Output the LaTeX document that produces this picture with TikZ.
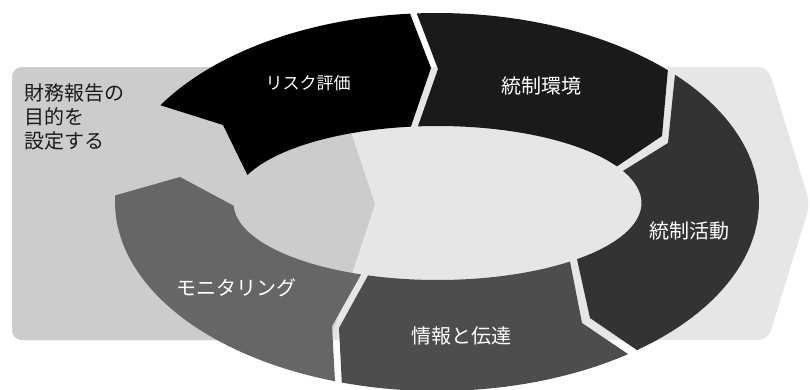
\documentclass[tikz,border=0pt]{standalone}
\usepackage{fontspec}
\setmainfont{Noto Sans CJK JP}
\definecolor{bgA}{HTML}{CCCCCC}
\definecolor{bgB}{HTML}{E6E6E6}
\definecolor{segA}{HTML}{000000}
\definecolor{segB}{HTML}{1A1A1A}
\definecolor{segC}{HTML}{333333}
\definecolor{segD}{HTML}{4D4D4D}
\definecolor{segE}{HTML}{666666}
\definecolor{goaltext}{HTML}{1A1A1A}
\tikzset{
  lbl/.style={text=white, inner sep=0pt, font=\fontsize{20}{24}\selectfont},
  smalllbl/.style={lbl, font=\fontsize{17}{20}\selectfont},
  goalbox/.style={text=goaltext, inner sep=0pt, align=left, font=\fontsize{20}{24}\selectfont},
  arcplot/.style={samples=48, variable=\t}
}
\begin{document}
\begin{tikzpicture}[x=1pt, y=-1pt]
\useasboundingbox (0,0) rectangle (810,389);
% background process arrow
\fill[bgB, rounded corners=10] (12,67) -- (768,67) -- (810,204) -- (768,340) -- (12,340) -- cycle;
\fill[bgA, rounded corners=10] (12,340) -- (12,67) -- (329,67) [sharp corners] -- (375,204) -- (330,340) [rounded corners=10] -- cycle;
% ring segments
\fill[segA] (223,125)
  -- plot[arcplot, domain=210.8:265.2] ({437+322*cos(\t)},{202+189*sin(\t)})
  -- (431,68)
  -- plot[arcplot, domain=262.5:201.3] ({437.5+204*cos(\t)},{203+77*sin(\t)})
  -- cycle;
\fill[segB] (438,69)
  -- plot[arcplot, domain=266.4:315.8] ({437+322*cos(\t)},{202+189*sin(\t)})
  -- (662,136)
  -- plot[arcplot, domain=331.6:264.5] ({437.5+204*cos(\t)},{203+77*sin(\t)})
  -- cycle;
\fill[segC] (668,143)
  -- plot[arcplot, domain=317.65:411.6] ({437+322*cos(\t)},{202+189*sin(\t)})
  -- (590,318)
  -- plot[arcplot, domain=406.85:335.4] ({437.5+204*cos(\t)},{203+77*sin(\t)})
  -- cycle;
\fill[segD] (582,323)
  -- plot[arcplot, domain=53.6:107.2] ({437+322*cos(\t)},{202+189*sin(\t)})
  -- (339,328)
  -- plot[arcplot, domain=109.9:49.5] ({437.5+204*cos(\t)},{203+77*sin(\t)})
  -- cycle;
\fill[segE] (332,326)
  -- plot[arcplot, domain=108.47:182] ({437+322*cos(\t)},{202+189*sin(\t)})
  -- (180,177)
  -- plot[arcplot, domain=178:112] ({437.5+204*cos(\t)},{203+77*sin(\t)})
  -- cycle;
% labels
\node[smalllbl] (risk) at (308,83) {リスク評価};
\node[lbl] (env) at (541,86) {統制環境};
\node[lbl] (act) at (689,231) {統制活動};
\node[lbl] (info) at (461,336) {情報と伝達};
\node[lbl] (mon) at (236,288) {モニタリング};
\node[goalbox, anchor=west] (goal) at (24,117) {財務報告の\\目的を\\設定する};
\end{tikzpicture}
\end{document}
